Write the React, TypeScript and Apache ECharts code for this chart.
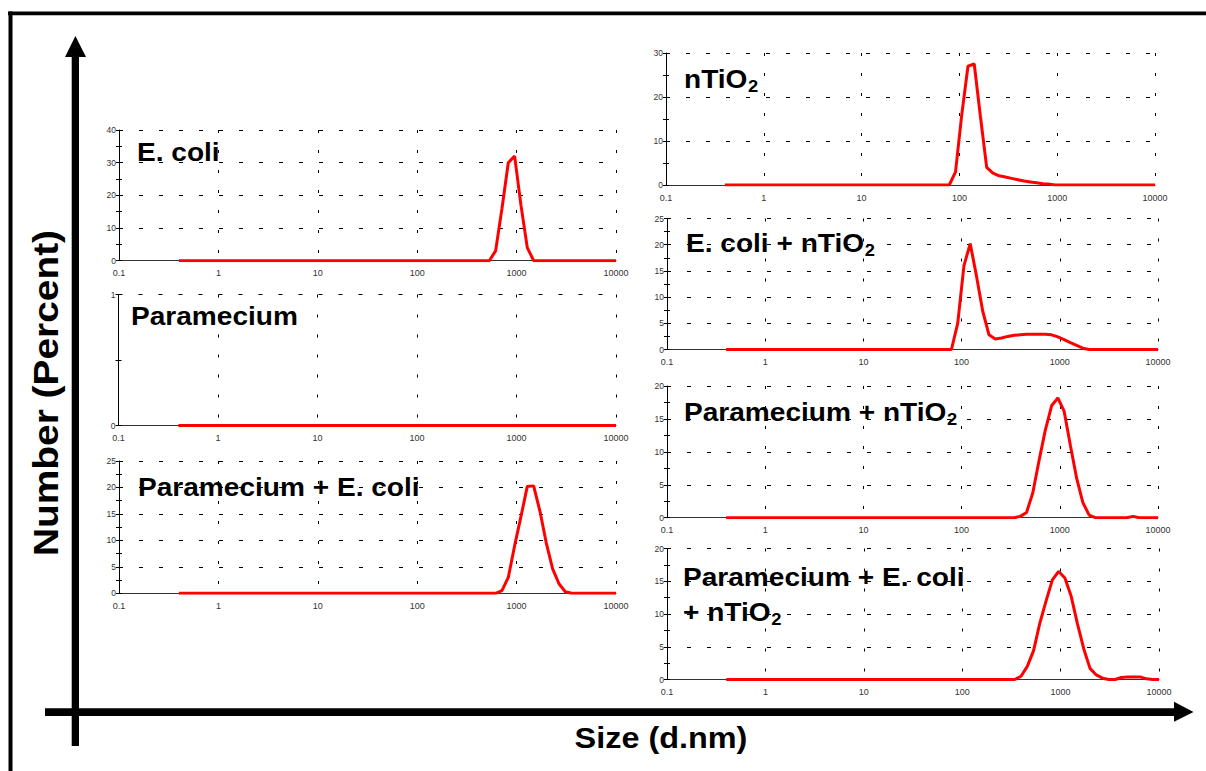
import React, { useEffect, useRef } from 'react';
import * as echarts from 'echarts';

// ---------- data ----------
const xTickLabels = ['0.1', '1', '10', '100', '1000', '10000'];
const xAxisTitle = 'Size (d.nm)';
const yAxisTitle = 'Number (Percent)';

const ecoliSizes = [0.4, 531.2, 615.1, 712.4, 825.0, 955.4, 1106, 1281, 1484, 10000];
const ecoliValues = [0, 0, 3, 16, 30, 32, 17, 4, 0, 0];

const parameciumSizes = [0.4, 10000];
const parameciumValues = [0, 0];

const paramEcoliSizes = [0.4, 615.1, 712.4, 825.0, 955.4, 1106, 1281, 1484, 1718, 1990, 2305, 2669, 3091, 3580, 10000];
const paramEcoliValues = [0, 0, 0.5, 3, 9, 14.5, 20.2, 20.3, 15.5, 9.5, 4.6, 1.8, 0.3, 0, 0];

const tio2Sizes = [0.4, 78.82, 91.28, 105.7, 122.4, 141.8, 164.2, 190.1, 220.2, 255.0, 295.3, 342.0, 396.1, 458.7, 531.2, 615.1, 712.4, 825.0, 955.4, 10000];
const tio2Values = [0, 0, 3, 16, 27, 27.5, 15.5, 4, 2.7, 2.1, 1.8, 1.5, 1.2, 0.9, 0.7, 0.5, 0.3, 0.2, 0, 0];

const ecoliTio2Sizes = [0.4, 78.82, 91.28, 105.7, 122.4, 141.8, 164.2, 190.1, 220.2, 255.0, 295.3, 342.0, 396.1, 458.7, 531.2, 615.1, 712.4, 825.0, 955.4, 1106, 1281, 1484, 1718, 1990, 10000];
const ecoliTio2Values = [0, 0, 5, 16, 20.2, 14, 7.3, 2.8, 2.0, 2.2, 2.5, 2.7, 2.8, 2.9, 2.9, 2.9, 2.9, 2.8, 2.4, 1.9, 1.3, 0.8, 0.25, 0, 0];

const paramTio2Sizes = [0.4, 342.0, 396.1, 458.7, 531.2, 615.1, 712.4, 825.0, 955.4, 1106, 1281, 1484, 1718, 1990, 2305, 4801, 5560, 6439, 10000];
const paramTio2Values = [0, 0, 0.2, 0.8, 3.8, 8.7, 13.3, 17, 18.2, 16.2, 11, 6, 2.3, 0.4, 0, 0, 0.2, 0, 0];

const allSizes = [0.4, 342.0, 396.1, 458.7, 531.2, 615.1, 712.4, 825.0, 955.4, 1106, 1281, 1484, 1718, 1990, 2305, 2669, 3091, 3580, 4145, 4801, 5560, 6439, 7456, 8635, 10000];
const allValues = [0, 0, 0.5, 2.0, 4.4, 8.6, 12, 15.2, 16.5, 15.5, 12.7, 8.5, 4.7, 1.7, 0.7, 0.2, 0, 0, 0.3, 0.4, 0.4, 0.4, 0.1, 0, 0];

const panelTitles = ['E. coli', 'Paramecium', 'Paramecium + E. coli', 'nTiO', 'E. coli + nTiO', 'Paramecium + nTiO', 'Paramecium + E. coli'];
const extraTitleLine = '+ nTiO';
const subscriptText = '2';
const yMaxes = [40, 1, 25, 30, 25, 20, 20];
const ySteps = [10, 1, 5, 10, 5, 5, 5];

const seriesSizes = [ecoliSizes, parameciumSizes, paramEcoliSizes, tio2Sizes, ecoliTio2Sizes, paramTio2Sizes, allSizes];
const seriesValues = [ecoliValues, parameciumValues, paramEcoliValues, tio2Values, ecoliTio2Values, paramTio2Values, allValues];

// ---------- layout ----------
const boxes = [
  { left: 119, top: 130, width: 497, height: 130.7 },
  { left: 118.5, top: 294.5, width: 497.5, height: 131 },
  { left: 119, top: 461, width: 497, height: 132.3 },
  { left: 666, top: 53, width: 489, height: 132 },
  { left: 667, top: 218.5, width: 491, height: 131 },
  { left: 667, top: 386, width: 491, height: 131.7 },
  { left: 667, top: 548.5, width: 492, height: 131 },
];
const titlePos = [
  { x: 137, y: 152, sub: false },
  { x: 131, y: 316, sub: false },
  { x: 138, y: 487, sub: false },
  { x: 684, y: 79, sub: true },
  { x: 686, y: 243, sub: true },
  { x: 684, y: 412, sub: true },
  { x: 683, y: 577, sub: false },
];

const FONT = '"Liberation Sans", Arial, sans-serif';
const TITLE_SIZE = 26;
const SUB_SIZE = 17;
const STRETCH = 1.08;

function measure(text: string, size: number): number {
  const c = document.createElement('canvas');
  const ctx = c.getContext('2d');
  if (!ctx) return text.length * size * 0.6;
  ctx.font = `bold ${size}px ${FONT}`;
  return ctx.measureText(text).width;
}

function textEl(x: number, y: number, text: string, size: number, align: string, extra: any = {}) {
  return {
    type: 'text',
    x,
    y,
    scaleX: STRETCH,
    silent: true,
    z: 50,
    ...extra,
    style: {
      text,
      fontFamily: FONT,
      fontSize: size,
      fontWeight: 'bold',
      fill: '#000',
      textAlign: align,
      align,
      textVerticalAlign: 'middle',
      verticalAlign: 'middle',
    },
  };
}

function titleEls(x: number, y: number, main: string, sub: boolean) {
  const els: any[] = [textEl(x, y, main, TITLE_SIZE, 'left')];
  if (sub) {
    const w = measure(main, TITLE_SIZE) * STRETCH;
    els.push(textEl(x + w + 0.5, y + 7, subscriptText, SUB_SIZE, 'left'));
  }
  return els;
}

export default function App() {
  const ref = useRef<HTMLDivElement>(null);

  useEffect(() => {
    if (!ref.current) return;
    const chart = echarts.init(ref.current, undefined, { renderer: 'svg' });

    const xFormatter = (v: number) => {
      const e = Math.round(Math.log10(v)) + 1;
      return xTickLabels[e] !== undefined ? xTickLabels[e] : String(v);
    };

    const grid = boxes.map((b) => ({ ...b, containLabel: false }));
    const xAxis = boxes.map((_, i) => ({
      type: 'log',
      gridIndex: i,
      logBase: 10,
      min: 0.1,
      max: 10000,
      splitNumber: 5,
      axisLine: { show: true, lineStyle: { color: '#333', width: 1 } },
      axisTick: { show: false },
      axisLabel: { fontSize: 9, color: '#333', margin: 8, fontFamily: FONT, formatter: xFormatter },
      splitLine: { show: true, lineStyle: { color: '#000', width: 1, type: [3, 17] } },
    }));
    const yAxis: any[] = [];
    boxes.forEach((_, i) => {
      const common = {
        type: 'value',
        gridIndex: i,
        position: 'left',
        min: 0,
        max: yMaxes[i],
        interval: ySteps[i],
      };
      yAxis.push({
        ...common,
        axisLine: { show: true, lineStyle: { color: '#000', width: 1 } },
        axisTick: { show: true, length: 3, lineStyle: { color: '#000' } },
        minorTick: { show: true, splitNumber: 2, length: 3, lineStyle: { color: '#000' } },
        axisLabel: { fontSize: 8.5, color: '#333', margin: 3, fontFamily: FONT },
        splitLine: { show: true, lineStyle: { color: '#000', width: 1, type: [4, 16] } },
      });
      yAxis.push({
        ...common,
        axisLine: { show: false },
        axisTick: { show: true, inside: true, length: 3, lineStyle: { color: '#000' } },
        minorTick: { show: true, splitNumber: 2, length: 3, lineStyle: { color: '#000' } },
        axisLabel: { show: false },
        splitLine: { show: false },
      });
    });

    const series = seriesSizes.map((sizes, i) => ({
      type: 'line',
      xAxisIndex: i,
      yAxisIndex: 2 * i,
      showSymbol: false,
      symbol: 'none',
      silent: true,
      z: 5,
      lineStyle: { color: '#ff0000', width: 3 },
      data: sizes.map((s, k) => [s, seriesValues[i][k]]),
    }));

    const graphic: any[] = [
      // frame
      { type: 'rect', shape: { x: 8, y: 11.5, width: 1200, height: 3.8 }, style: { fill: '#000' }, silent: true },
      { type: 'rect', shape: { x: 8.5, y: 11.5, width: 4, height: 770 }, style: { fill: '#000' }, silent: true },
      // vertical arrow
      { type: 'rect', shape: { x: 71.7, y: 55, width: 7.3, height: 691 }, style: { fill: '#000' }, silent: true },
      { type: 'polygon', shape: { points: [[65, 57], [86, 57], [75.4, 36]] }, style: { fill: '#000' }, silent: true },
      // horizontal arrow
      { type: 'rect', shape: { x: 45, y: 708.3, width: 1131, height: 7.7 }, style: { fill: '#000' }, silent: true },
      { type: 'polygon', shape: { points: [[1174, 701.7], [1174, 721.7], [1193.5, 711.9]] }, style: { fill: '#000' }, silent: true },
      // axis titles
      textEl(46, 393, yAxisTitle, 36, 'center', { rotation: Math.PI / 2 }),
      textEl(661, 738, xAxisTitle, 30, 'center'),
    ];
    titlePos.forEach((p, i) => {
      titleEls(p.x, p.y, panelTitles[i], p.sub).forEach((e) => graphic.push(e));
    });
    titleEls(683, 612, extraTitleLine, true).forEach((e) => graphic.push(e));

    chart.setOption({
      animation: false,
      backgroundColor: '#fff',
      grid,
      xAxis,
      yAxis,
      series,
      graphic,
    });

    return () => {
      chart.dispose();
    };
  }, []);

  return (
    <div
      ref={ref}
      style={{ position: 'fixed', left: 0, top: 0, width: 1206, height: 771, background: '#fff' }}
    />
  );
}
